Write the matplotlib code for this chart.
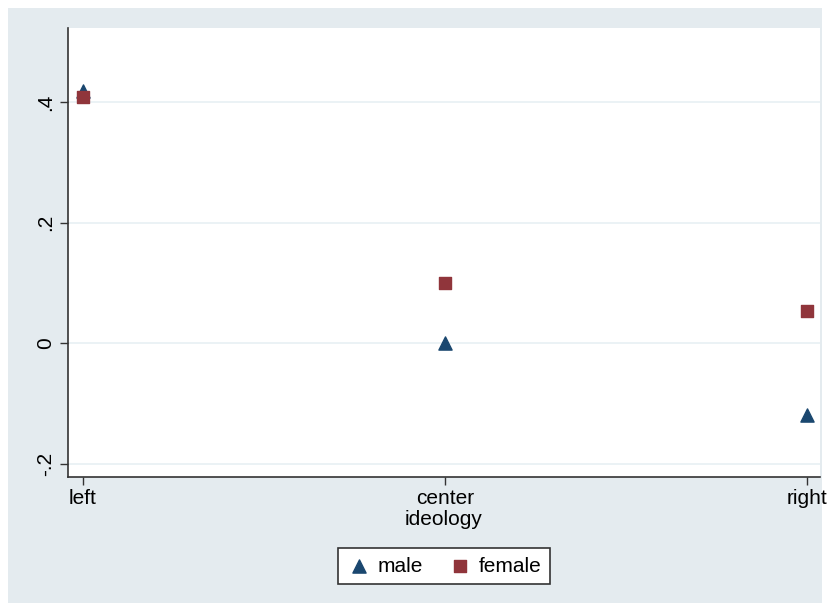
import matplotlib.pyplot as plt
from matplotlib.patches import Rectangle

plt.rcParams["font.family"] = ["Liberation Sans", "DejaVu Sans"]

categories = ["left", "center", "right"]
male = [0.418, 0.0, -0.118]
female = [0.408, 0.100, 0.053]
yticks = [-0.2, 0, 0.2, 0.4]
ytick_labels = ["-.2", "0", ".2", ".4"]

W, H = 831, 611
fig = plt.figure(figsize=(W / 100, H / 100), dpi=100, facecolor="white")
# Stata-style light blue outer region
bg = Rectangle((8 / W, 8 / H), 814 / W, 595 / H, transform=fig.transFigure,
               facecolor="#e4ebef", edgecolor="none", zorder=-10)
fig.patches.append(bg)

ax = fig.add_axes([68 / W, 1 - 477 / H, (820 - 68) / W, (477 - 28) / H])
ax.set_zorder(1)
ax.set_facecolor("white")

x = list(range(len(categories)))
ax.scatter(x, male, marker="^", s=90, color="#1a476f", label="male", zorder=3)
ax.scatter(x, female, marker="s", s=70, color="#90353b", label="female", zorder=3)

ax.set_xlim(-0.041, 2.036)
ax.set_ylim(-0.2216, 0.523)
ax.set_xticks(x)
ax.set_xticklabels(categories, fontsize=15)
ax.set_yticks(yticks)
ax.set_yticklabels(ytick_labels, fontsize=15, rotation=90, va="center")
ax.set_xlabel("ideology", fontsize=15, labelpad=1)
ax.grid(axis="y", color="#e8f0f3", linewidth=1.2)
ax.set_axisbelow(True)

for side in ["top", "right"]:
    ax.spines[side].set_visible(False)
for side in ["left", "bottom"]:
    ax.spines[side].set_color("#333333")
    ax.spines[side].set_linewidth(1.2)
ax.tick_params(axis="both", length=6, width=1, color="#333333", pad=3)

leg = fig.legend(loc="center", bbox_to_anchor=(444 / W, 1 - 566 / H), ncol=2,
                 fontsize=15, frameon=True, fancybox=False, edgecolor="#333333",
                 facecolor="white", framealpha=1,
                 handletextpad=0.3, columnspacing=1.2, borderpad=0.4,
                 handlelength=1.2)
leg.get_frame().set_linewidth(1.2)

fig.savefig("out.png", dpi=100)
